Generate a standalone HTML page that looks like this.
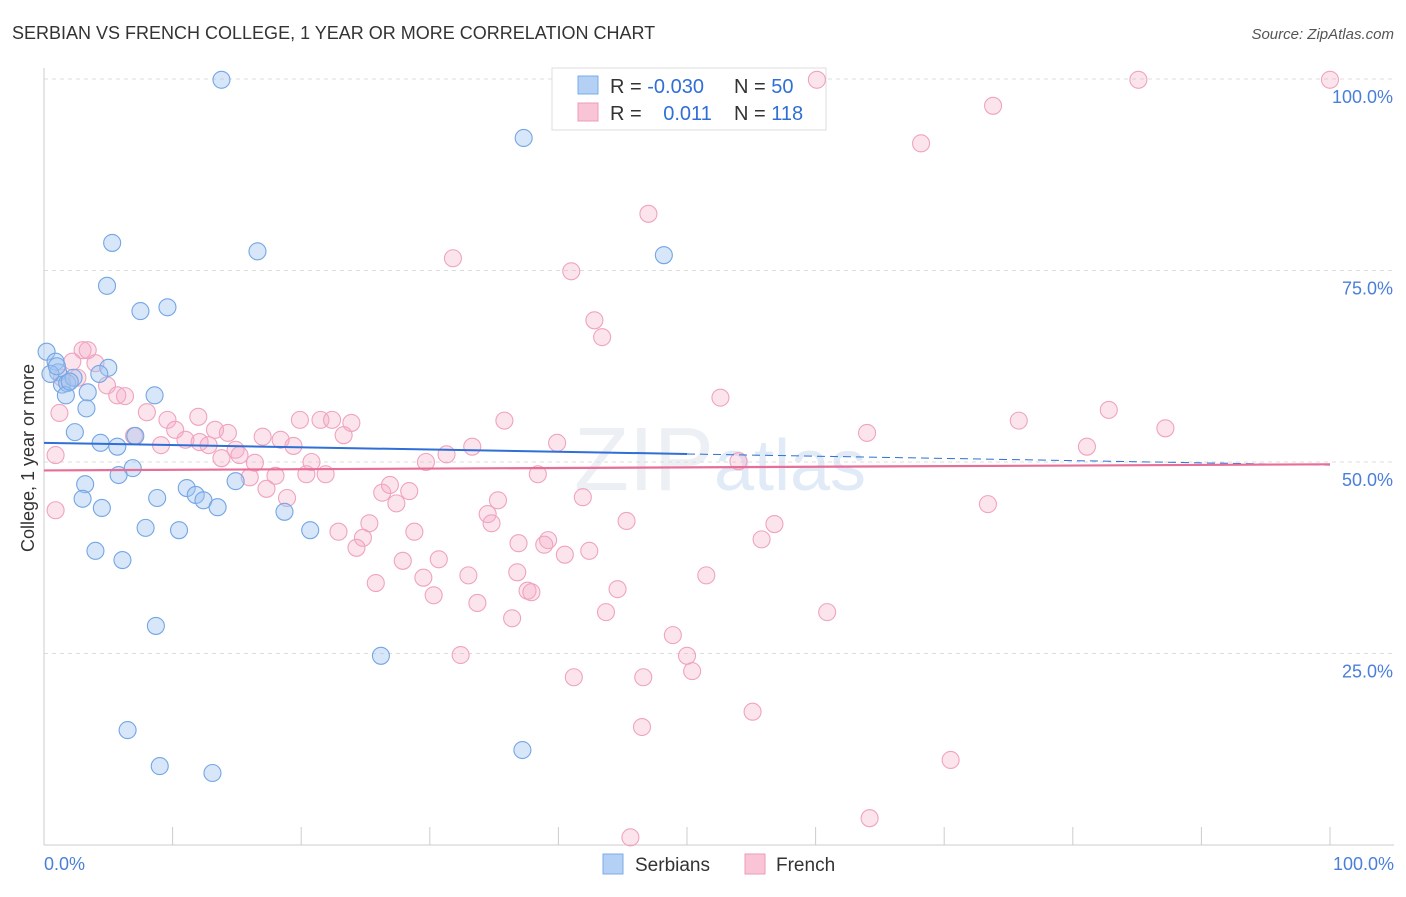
<!DOCTYPE html>
<html><head><meta charset="utf-8">
<style>
body{margin:0;background:#fff;font-family:"Liberation Sans",sans-serif;}
svg text{font-family:"Liberation Sans",sans-serif;}
</style></head>
<body>
<svg id="chart" width="1406" height="892" xmlns="http://www.w3.org/2000/svg">
<text x="12" y="39" font-size="18" fill="#333">SERBIAN VS FRENCH COLLEGE, 1 YEAR OR MORE CORRELATION CHART</text>
<text x="1394" y="39" font-size="15" fill="#555" text-anchor="end" font-style="italic">Source: ZipAtlas.com</text>
<text x="720" y="490" font-size="90" fill="#eceff3" text-anchor="middle" font-family="Liberation Serif">ZIP<tspan fill="#e0ebf7" font-family="Liberation Sans" font-size="72">atlas</tspan></text>
<g id="grid"></g>
<g id="axes"></g>
<g>
<rect x="552" y="68" width="274" height="62" fill="#fff" stroke="#ddd"/>
<rect x="578" y="76" width="20" height="18" fill="#b4d0f4" stroke="#7aaee8"/>
<text x="610" y="93" font-size="20" fill="#333">R = <tspan fill="#2f6fd6">-0.030</tspan></text>
<text x="734" y="93" font-size="20" fill="#333">N = <tspan fill="#2f6fd6">50</tspan></text>
<rect x="578" y="103" width="20" height="18" fill="#f8c4d6" stroke="#ee9bb8"/>
<text x="610" y="120" font-size="20" fill="#333">R = <tspan fill="#2f6fd6" dx="16">0.011</tspan></text>
<text x="734" y="120" font-size="20" fill="#333">N = <tspan fill="#2f6fd6">118</tspan></text>
</g>
<g id="points"></g>
<g id="trends"></g>
<text transform="translate(34,458) rotate(-90)" font-size="18" fill="#333" text-anchor="middle">College, 1 year or more</text>
<g>
<rect x="603" y="854" width="20" height="20" fill="#b4d0f4" stroke="#7aaee8"/>
<text x="635" y="871" font-size="19" fill="#333">Serbians</text>
<rect x="745" y="854" width="20" height="20" fill="#f8c4d6" stroke="#ee9bb8"/>
<text x="776" y="871" font-size="19" fill="#333">French</text>
</g>
</svg>
<script>
const blueX=[13.8,37.3,5.3,16.6,48.2,4.9,7.5,9.6,0.2,0.9,1.1,1.4,1.8,2.3,1.7,3.4,3.3,5.0,4.3,8.6,2.4,4.4,5.7,7.1,6.9,5.8,3.2,3.0,4.5,8.8,11.1,11.8,12.4,13.5,14.9,18.7,7.9,10.5,20.7,4.0,6.1,8.7,26.2,6.5,9.0,13.1,37.2,0.5,1.0,2.0];
const blueY=[99.9,92.3,78.6,77.5,77.0,73.0,69.7,70.2,64.4,63.1,61.7,60.1,60.3,61.0,58.7,59.1,57.0,62.3,61.5,58.7,53.9,52.5,52.0,53.4,49.2,48.3,47.1,45.2,44.0,45.3,46.6,45.7,45.0,44.1,47.5,43.5,41.4,41.1,41.1,38.4,37.2,28.6,24.7,15.0,10.3,9.4,12.4,61.5,62.5,60.5];
const pinkX=[60.1,85.1,100,73.8,68.2,47.0,31.8,41.0,42.8,43.4,3.0,3.4,2.2,4.0,1.4,2.6,4.9,5.7,6.3,8.0,1.2,9.6,12.0,19.9,21.5,22.4,23.9,35.8,52.6,75.8,82.8,87.2,64.0,7.0,10.2,11.0,13.3,14.3,17.0,18.4,19.4,23.3,9.1,12.1,12.8,14.9,15.2,13.8,0.9,33.3,39.9,81.1,20.8,16.4,29.7,31.3,54.0,38.4,18.0,16.0,20.4,21.9,17.3,18.9,26.3,26.9,27.4,28.4,35.3,41.9,0.9,34.5,34.8,45.3,56.8,73.4,25.3,22.9,24.8,24.3,28.8,36.9,39.2,38.9,40.5,42.4,55.8,27.9,30.7,33.0,36.8,29.5,25.8,30.3,44.6,51.5,33.7,37.6,37.9,36.4,43.7,60.9,48.9,32.4,50.0,50.4,41.2,46.6,55.1,46.5,70.5,64.2,45.6];
const pinkY=[99.9,99.9,99.9,96.5,91.6,82.4,76.6,74.9,68.5,66.3,64.6,64.6,63.1,62.9,61.0,61.0,60.0,58.7,58.6,56.5,56.4,55.5,55.9,55.5,55.5,55.5,55.1,55.4,58.4,55.4,56.8,54.4,53.8,53.4,54.2,52.9,54.2,53.8,53.3,52.9,52.1,53.5,52.2,52.6,52.2,51.6,50.9,50.5,50.9,52.0,52.5,52.0,50.0,49.9,50.0,51.0,50.1,48.4,48.2,48.0,48.4,48.4,46.5,45.3,46.0,47.0,44.6,46.2,45.0,45.4,43.7,43.2,42.0,42.3,41.9,44.5,42.0,40.9,40.1,38.8,40.9,39.4,39.8,39.2,37.9,38.4,39.9,37.1,37.3,35.2,35.6,34.9,34.2,32.6,33.4,35.2,31.6,33.2,33.0,29.6,30.4,30.4,27.4,24.8,24.7,22.7,21.9,21.9,17.4,15.4,11.1,3.5,1.0];
const yTicks=[25,50,75,100];
const xTickLabels=["0.0%","100.0%"];
const blueTrend=[52.5,49.6];
const pinkTrend=[48.9,49.7];
const NS="http://www.w3.org/2000/svg";
const X0=44,X1=1330,YT=79,YB=845;
const sx=v=>X0+(X1-X0)*v/100;
const sy=v=>YB-(YB-YT)*v/100;
function mk(tag,attrs,parent){const e=document.createElementNS(NS,tag);for(const k in attrs)e.setAttribute(k,attrs[k]);parent.appendChild(e);return e;}
const grid=document.getElementById('grid'),axes=document.getElementById('axes'),pts=document.getElementById('points'),tr=document.getElementById('trends');
yTicks.forEach(t=>{
 const l=mk('line',{x1:X0,x2:1394,y1:sy(t),y2:sy(t),stroke:'#dcdcdc','stroke-dasharray':'4,4'},grid);
 
 
 const tx=mk('text',{x:1393,y:sy(t)+24,'font-size':18,fill:'#4a7fd8','text-anchor':'end'},axes);
 tx.textContent=t.toFixed(1)+'%';
 
 
});
const ax=mk('line',{x1:X0,x2:1394,y1:YB,y2:YB,stroke:'#ccc'},axes);


const ay=mk('line',{x1:X0,x2:X0,y1:68,y2:YB,stroke:'#ccc'},axes);


for(let i=0;i<=10;i++){
 const t=mk('line',{x1:sx(i*10),x2:sx(i*10),y1:YB,y2:YB-18,stroke:'#ccc'},axes);
 
 
}
const xl0=mk('text',{x:44,y:870,'font-size':18,fill:'#4a7fd8'},axes);xl0.textContent=xTickLabels[0];


const xl1=mk('text',{x:1394,y:870,'font-size':18,fill:'#4a7fd8','text-anchor':'end'},axes);xl1.textContent=xTickLabels[1];


pinkX.forEach((v,i)=>{
 const c=mk('circle',{cx:sx(v),cy:sy(pinkY[i]),r:8.5,fill:'rgba(246,172,198,0.32)',stroke:'#f0a3be','stroke-width':1.1},pts);
 
 
});
blueX.forEach((v,i)=>{
 const c=mk('circle',{cx:sx(v),cy:sy(blueY[i]),r:8.5,fill:'rgba(160,196,240,0.42)',stroke:'#74a6e4','stroke-width':1.1},pts);
 
 
});
const bAt=x=>blueTrend[0]+(blueTrend[1]-blueTrend[0])*x/100;
const b1=mk('line',{x1:sx(0),y1:sy(bAt(0)),x2:sx(50),y2:sy(bAt(50)),stroke:'#2f6fd6','stroke-width':2},tr);


const b2=mk('line',{x1:sx(50),y1:sy(bAt(50)),x2:sx(100),y2:sy(bAt(100)),stroke:'#2f6fd6','stroke-width':1,'stroke-dasharray':'8,5'},tr);


const p1=mk('line',{x1:sx(0),y1:sy(pinkTrend[0]),x2:sx(100),y2:sy(pinkTrend[1]),stroke:'#e76e98','stroke-width':2.2},tr);


</script>
</body></html>
